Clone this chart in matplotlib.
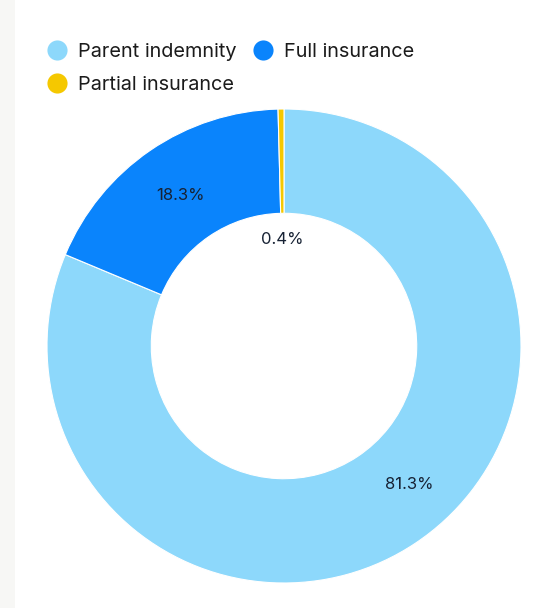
import numpy as np
import matplotlib.pyplot as plt
from matplotlib.patches import Rectangle
from matplotlib.lines import Line2D

plt.rcParams['font.family'] = ['Inter', 'DejaVu Sans']

categories = ['Parent indemnity', 'Full insurance', 'Partial insurance']
shares = [81.3, 18.3, 0.4]
labels = ['81.3%', '18.3%', '0.4%']
colors = ['#8dd8fb', '#0a84fc', '#f5c800']

# where each % label sits (radius, angle shift from wedge middle in degrees)
label_r = [0.79, 0.77, 0.45]
label_shift = [8.5, 0.0, 0.0]

fig = plt.figure(figsize=(5.39, 6.08), dpi=100)
fig.patch.set_facecolor('white')
fig.patches.append(Rectangle((0, 0), 15 / 539, 1, transform=fig.transFigure,
                             facecolor='#f7f7f5', edgecolor='none', zorder=0))

ax = fig.add_axes([47 / 539, 25 / 608, 474 / 539, 474 / 608])
wedges, _ = ax.pie(shares, colors=colors, startangle=90, counterclock=False,
                   radius=1.0, wedgeprops=dict(width=0.44, edgecolor='white', linewidth=0.8))
ax.set_xlim(-1, 1)
ax.set_ylim(-1, 1)
ax.set_aspect('equal')
ax.axis('off')

for w, lab, r, sh in zip(wedges, labels, label_r, label_shift):
    mid = np.deg2rad((w.theta1 + w.theta2) / 2 + sh)
    ax.text(r * np.cos(mid), r * np.sin(mid), lab, ha='center', va='center',
            fontsize=12, color='#172234')

handles = [Line2D([], [], marker='o', linestyle='none', markersize=14.5,
                  markerfacecolor=c, markeredgecolor='none') for c in colors]
order = [0, 2, 1]
fig.legend([handles[i] for i in order], [categories[i] for i in order],
           loc='upper left', bbox_to_anchor=(29 / 539, 1 - 25 / 608), ncol=2,
           frameon=False, fontsize=14.3, handlelength=1.0, handletextpad=0.55,
           columnspacing=0.85, labelspacing=0.75, labelcolor='#1b1b1b')

fig.savefig('out.png', dpi=100, facecolor=fig.get_facecolor())
